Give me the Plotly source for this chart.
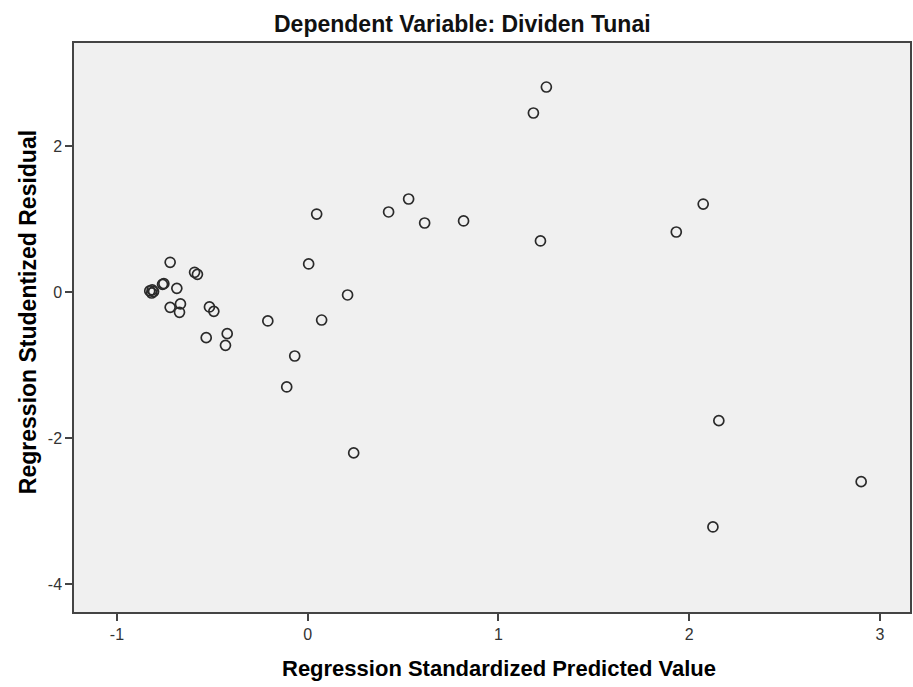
import plotly.graph_objects as go

pred = [1.251, 1.183, 2.073, 1.932, 1.220, 0.817, 0.613, 0.529, 0.424, 0.047,
        0.005, 0.209, 0.073, -0.209, -0.068, -0.110, 0.241, 2.155, 2.124, 2.901,
        -0.721, -0.593, -0.578, -0.754, -0.761, -0.686, -0.828, -0.818, -0.808, -0.815,
        -0.721, -0.667, -0.672, -0.515, -0.492, -0.532, -0.422, -0.431]
resid = [2.808, 2.452, 1.205, 0.822, 0.699, 0.973, 0.945, 1.274, 1.096, 1.068,
         0.384, -0.041, -0.384, -0.397, -0.877, -1.301, -2.205, -1.763, -3.219, -2.598,
         0.407, 0.270, 0.242, 0.114, 0.105, 0.050, 0.014, -0.014, 0.005, 0.030,
         -0.210, -0.164, -0.278, -0.205, -0.265, -0.626, -0.571, -0.731]

title_text = "Dependent Variable: Dividen Tunai"
x_title = "Regression Standardized Predicted Value"
y_title = "Regression Studentized Residual"
x_ticks = [-1, 0, 1, 2, 3]
x_ticklabels = ["-1", "0", "1", "2", "3"]
y_ticks = [-4, -2, 0, 2]
y_ticklabels = ["-4", "-2", "0", "2"]

fig = go.Figure()
fig.add_trace(go.Scatter(
    x=pred, y=resid, mode="markers",
    marker=dict(symbol="circle-open", size=10, color="#2a2a2a", line=dict(width=1.7)),
    hoverinfo="x+y", showlegend=False,
))

axis_common = dict(
    showgrid=False, zeroline=False, showline=True, linecolor="#444444", linewidth=1.5,
    mirror=True, ticks="outside", ticklen=7, tickwidth=1.5, tickcolor="#444444",
    tickfont=dict(family="Arial, Liberation Sans", size=16, color="#333333"),
)
fig.update_xaxes(range=[-1.225, 3.157], tickvals=x_ticks, ticktext=x_ticklabels, **axis_common)
fig.update_yaxes(range=[-4.384, 3.411], tickvals=y_ticks, ticktext=y_ticklabels, **axis_common)

fig.update_layout(
    width=913, height=687,
    margin=dict(l=74, r=1, t=43, b=75),
    paper_bgcolor="white", plot_bgcolor="#f0f0f0",
    annotations=[
        dict(text="<b>" + title_text + "</b>", xref="paper", yref="paper",
             x=0.465, y=1, xanchor="center", yanchor="middle", yshift=19, showarrow=False,
             font=dict(family="Arial, Liberation Sans", size=23, color="#111111")),
        dict(text="<b>" + x_title + "</b>", xref="paper", yref="paper",
             x=0.508, y=0, xanchor="center", yanchor="middle", yshift=-56, showarrow=False,
             font=dict(family="Arial, Liberation Sans", size=22, color="black")),
        dict(text="<b>" + y_title + "</b>", xref="paper", yref="paper",
             x=0, y=0.527, xanchor="center", yanchor="middle", xshift=-46, textangle=-90,
             showarrow=False,
             font=dict(family="Arial, Liberation Sans", size=23, color="black")),
    ],
)

fig.write_html("out.html")
